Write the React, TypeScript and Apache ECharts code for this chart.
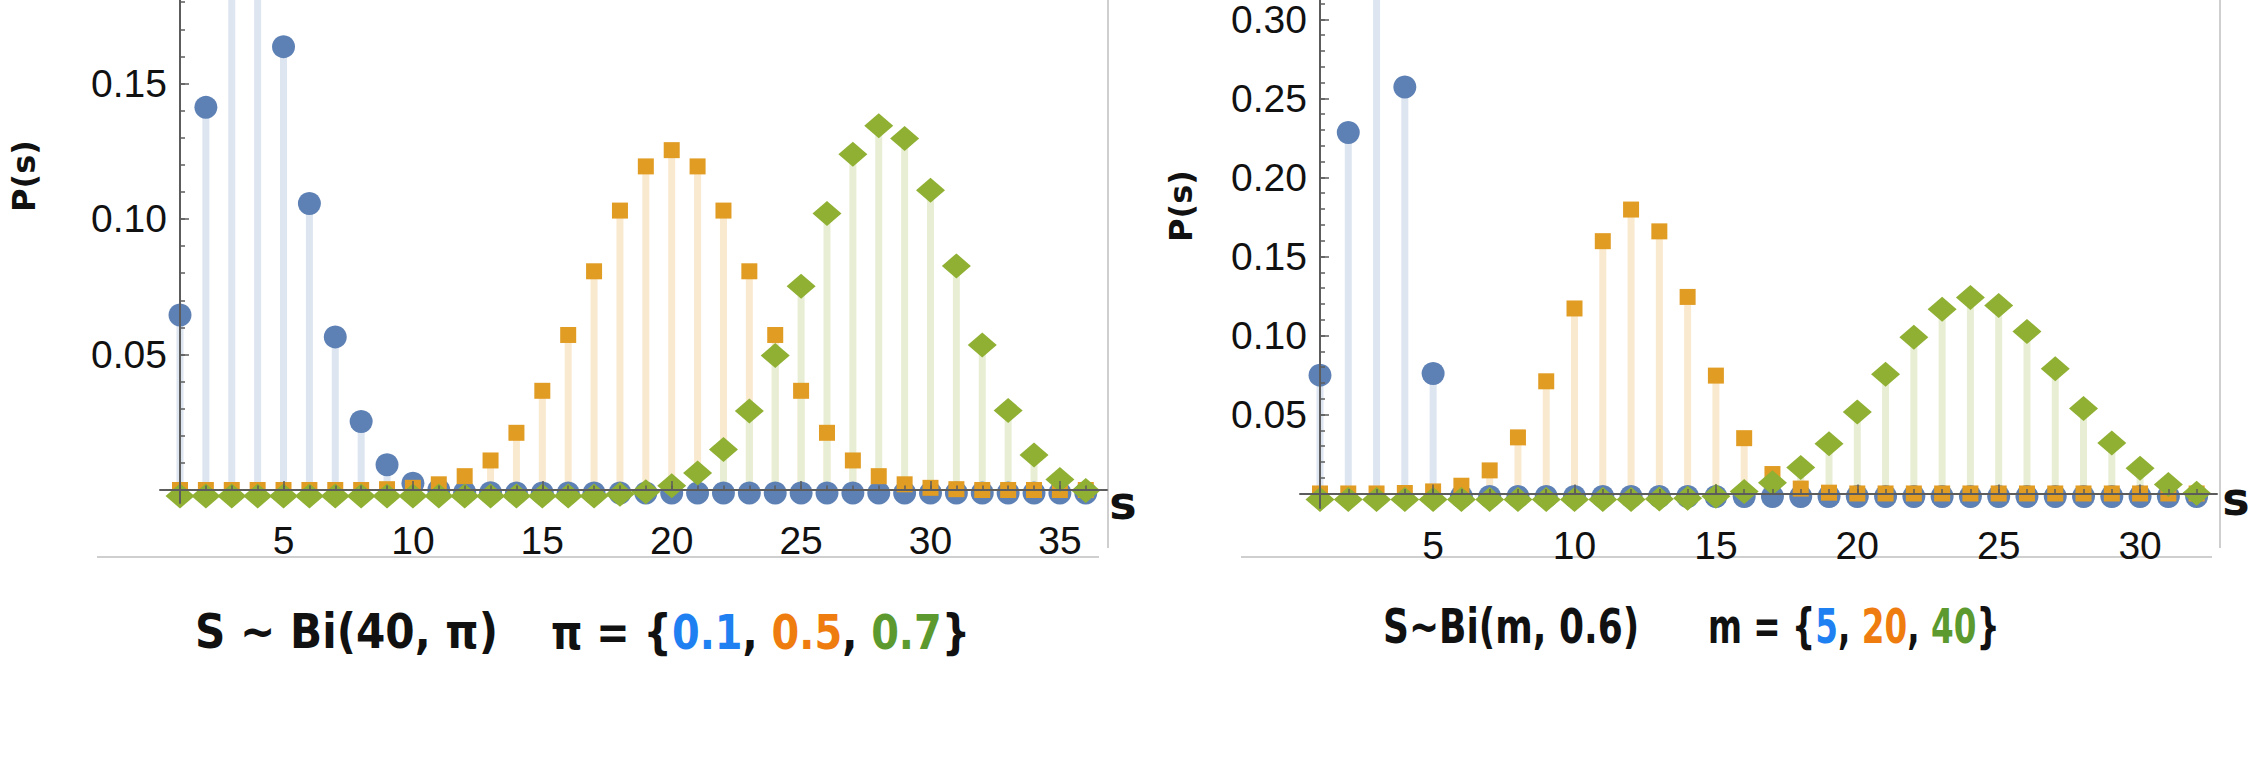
import React, { useEffect, useRef } from "react";
import * as echarts from "echarts";

// ---------- data ----------
// Left panel: S ~ Bi(40, π), π = {0.1, 0.5, 0.7}, s = 1..36
const sLeft = [1, 2, 3, 4, 5, 6, 7, 8, 9, 10, 11, 12, 13, 14, 15, 16, 17, 18, 19, 20, 21, 22, 23, 24, 25, 26, 27, 28, 29, 30, 31, 32, 33, 34, 35, 36];
const leftBlue = [0.0657, 0.1423, 0.2003, 0.2059, 0.1647, 0.1068, 0.0576, 0.0264, 0.0104, 0.0036, 0.0011, 0.0003, 0.0001, 0, 0, 0, 0, 0, 0, 0, 0, 0, 0, 0, 0, 0, 0, 0, 0, 0, 0, 0, 0, 0, 0, 0];
const leftOrange = [0, 0, 0, 0, 0, 0, 0, 0, 0.0003, 0.0008, 0.0021, 0.0051, 0.0109, 0.0211, 0.0366, 0.0572, 0.0807, 0.1031, 0.1194, 0.1254, 0.1194, 0.1031, 0.0807, 0.0572, 0.0366, 0.0211, 0.0109, 0.0051, 0.0021, 0.0008, 0.0003, 0, 0, 0, 0, 0];
const leftGreen = [0, 0, 0, 0, 0, 0, 0, 0, 0, 0, 0, 0, 0, 0, 0, 0, 0, 0.0006, 0.0016, 0.0038, 0.0085, 0.0172, 0.0314, 0.0518, 0.0774, 0.1042, 0.1261, 0.1366, 0.1319, 0.1128, 0.0849, 0.0557, 0.0315, 0.0151, 0.0061, 0.002];
const leftXTicks = [5, 10, 15, 20, 25, 30, 35];
const leftYTicks = [0.05, 0.1, 0.15];
const leftYMinor = [0.01, 0.02, 0.03, 0.04, 0.05, 0.06, 0.07, 0.08, 0.09, 0.1, 0.11, 0.12, 0.13, 0.14, 0.15, 0.16, 0.17, 0.18];

// Right panel: S ~ Bi(m, 0.6), m = {5, 20, 40}, s = 1..32
const sRight = [1, 2, 3, 4, 5, 6, 7, 8, 9, 10, 11, 12, 13, 14, 15, 16, 17, 18, 19, 20, 21, 22, 23, 24, 25, 26, 27, 28, 29, 30, 31, 32];
const rightBlue = [0.0768, 0.2304, 0.3456, 0.2592, 0.0778, 0, 0, 0, 0, 0, 0, 0, 0, 0, 0, 0, 0, 0, 0, 0, 0, 0, 0, 0, 0, 0, 0, 0, 0, 0, 0, 0];
const rightOrange = [0, 0, 0, 0.0003, 0.0013, 0.0049, 0.0146, 0.0355, 0.071, 0.1171, 0.1597, 0.1797, 0.1659, 0.1244, 0.0746, 0.035, 0.0123, 0.0031, 0.0005, 0, 0, 0, 0, 0, 0, 0, 0, 0, 0, 0, 0, 0];
const rightGreen = [0, 0, 0, 0, 0, 0, 0, 0, 0, 0, 0, 0, 0.0003, 0.0008, 0.0021, 0.005, 0.0106, 0.0203, 0.0352, 0.0554, 0.0792, 0.1026, 0.1204, 0.1279, 0.1228, 0.1063, 0.0827, 0.0576, 0.0357, 0.0197, 0.0095, 0.004];
const rightXTicks = [5, 10, 15, 20, 25, 30];
const rightYTicks = [0.05, 0.1, 0.15, 0.2, 0.25, 0.3];
const rightYMinor = [0.01, 0.02, 0.03, 0.04, 0.05, 0.06, 0.07, 0.08, 0.09, 0.1, 0.11, 0.12, 0.13, 0.14, 0.15, 0.16, 0.17, 0.18, 0.19, 0.2, 0.21, 0.22, 0.23, 0.24, 0.25, 0.26, 0.27, 0.28, 0.29, 0.3, 0.31];

// ---------- styles ----------
const AXIS = "#5c5c5c";
const FRAME = "#cfcfcf";
const TICK_FONT = "Liberation Sans";
const HAND_FONT = "DejaVu Sans";
const BLUE = "#5e81b5";
const ORANGE = "#e19c24";
const GREEN = "#8fb032";
const BLUE_STEM = "#dde5f0";
const ORANGE_STEM = "#f9e9cf";
const GREEN_STEM = "#e8eed4";
const CAP_BLUE = "#1f80f2";
const CAP_ORANGE = "#ef7c0e";
const CAP_GREEN = "#5c9a2f";

function pairs(xs: number[], ys: number[]) {
  return xs.map((x, i) => [x, ys[i]]);
}

function mainX(gridIndex: number, min: number, max: number, ticks: number[]) {
  return {
    gridIndex, type: "value", min, max, z: 10,
    axisLine: { show: true, onZero: true, lineStyle: { color: AXIS, width: 2 } },
    axisTick: { show: true, inside: true, length: 9, customValues: ticks, lineStyle: { color: AXIS, width: 1.5 } },
    axisLabel: { show: true, customValues: ticks, margin: 18, fontSize: 39, fontFamily: TICK_FONT, color: "#111" },
    splitLine: { show: false },
  };
}
function minorX(gridIndex: number, min: number, max: number, ticks: number[]) {
  return {
    gridIndex, type: "value", min, max, z: 10,
    axisLine: { show: false, onZero: true },
    axisTick: { show: true, inside: true, length: 4.5, customValues: ticks, lineStyle: { color: AXIS, width: 1.5 } },
    axisLabel: { show: false },
    splitLine: { show: false },
  };
}
function mainY(gridIndex: number, min: number, max: number, ticks: number[]) {
  return {
    gridIndex, type: "value", min, max, offset: -20, z: 10,
    axisLine: { show: true, onZero: false, lineStyle: { color: AXIS, width: 2 } },
    axisTick: { show: true, inside: true, length: 9, customValues: ticks, lineStyle: { color: AXIS, width: 1.5 } },
    axisLabel: {
      show: true, customValues: ticks, margin: 13, fontSize: 39, lineHeight: 30, fontFamily: TICK_FONT, color: "#111",
      formatter: (v: number) => v.toFixed(2),
    },
    splitLine: { show: false },
  };
}
function minorY(gridIndex: number, min: number, max: number, ticks: number[]) {
  return {
    gridIndex, type: "value", min, max, offset: -20, z: 10,
    axisLine: { show: false, onZero: false },
    axisTick: { show: true, inside: true, length: 5, customValues: ticks, lineStyle: { color: AXIS, width: 1.5 } },
    axisLabel: { show: false },
    splitLine: { show: false },
  };
}

function stem(axisIndex: number, data: number[][], color: string) {
  return {
    type: "bar", xAxisIndex: axisIndex, yAxisIndex: axisIndex, data,
    barWidth: 7, barGap: "-100%", itemStyle: { color }, z: 1, silent: true,
  };
}
function dots(axisIndex: number, data: number[][], symbol: string, size: any, offset: number[], color: string) {
  return {
    type: "scatter", xAxisIndex: axisIndex, yAxisIndex: axisIndex, data,
    symbol, symbolSize: size, symbolOffset: offset, itemStyle: { color, opacity: 1 }, z: 2, clip: false, silent: true,
  };
}

function handText(x: number, y: number, text: string, fontSize: number, rotation = 0, align = "center") {
  return {
    type: "text", x, y, rotation, z: 20,
    style: { text, fontSize, fontWeight: "bold", fontFamily: HAND_FONT, fill: "#111", align, verticalAlign: "middle" },
  };
}
function capRich(fontSize: number) {
  const base = { fontSize, fontWeight: "bold", fontFamily: HAND_FONT };
  return {
    b: { ...base, fill: CAP_BLUE },
    o: { ...base, fill: CAP_ORANGE },
    g: { ...base, fill: CAP_GREEN },
  };
}
function caption(x: number, y: number, text: string, scaleX: number) {
  return {
    type: "text", x, y, scaleX, z: 20,
    style: {
      text, fontSize: 48, fontWeight: "bold", fontFamily: HAND_FONT, fill: "#111",
      align: "left", verticalAlign: "middle", rich: capRich(48),
    },
  };
}
function frameLine(x1: number, y1: number, x2: number, y2: number) {
  return { type: "line", z: 0, shape: { x1, y1, x2, y2 }, style: { stroke: FRAME, lineWidth: 2 } };
}

export default function App() {
  const ref = useRef<HTMLDivElement>(null);
  useEffect(() => {
    document.body.style.margin = "0";
    if (!ref.current) return;
    const chart = echarts.init(ref.current, null, { renderer: "svg" });
    const LXMIN = 0.2272, LXMAX = 36.82, LYMIN = -0.0048, LYMAX = 0.1808;
    const RXMIN = 0.2928, RXMAX = 32.72, RYMIN = -0.0092, RYMAX = 0.3123;
    chart.setOption({
      animation: false,
      backgroundColor: "#ffffff",
      grid: [
        { left: 160, top: 0, width: 947, height: 503 },
        { left: 160, top: 0, width: 947, height: 503 },
        { left: 1300, top: 0, width: 917, height: 508 },
        { left: 1300, top: 0, width: 917, height: 508 },
      ],
      xAxis: [
        mainX(0, LXMIN, LXMAX, leftXTicks),
        minorX(1, LXMIN, LXMAX, sLeft),
        mainX(2, RXMIN, RXMAX, rightXTicks),
        minorX(3, RXMIN, RXMAX, sRight),
      ],
      yAxis: [
        mainY(0, LYMIN, LYMAX, leftYTicks),
        minorY(1, LYMIN, LYMAX, leftYMinor),
        mainY(2, RYMIN, RYMAX, rightYTicks),
        minorY(3, RYMIN, RYMAX, rightYMinor),
      ],
      series: [
        stem(0, pairs(sLeft, leftBlue), BLUE_STEM),
        stem(0, pairs(sLeft, leftOrange), ORANGE_STEM),
        stem(0, pairs(sLeft, leftGreen), GREEN_STEM),
        dots(0, pairs(sLeft, leftBlue), "circle", 23, [0, 3], BLUE),
        dots(0, pairs(sLeft, leftOrange), "rect", 16, [0, 0], ORANGE),
        dots(0, pairs(sLeft, leftGreen), "diamond", [29, 25], [0, 6], GREEN),
        stem(2, pairs(sRight, rightBlue), BLUE_STEM),
        stem(2, pairs(sRight, rightOrange), ORANGE_STEM),
        stem(2, pairs(sRight, rightGreen), GREEN_STEM),
        dots(2, pairs(sRight, rightBlue), "circle", 23, [0, 3], BLUE),
        dots(2, pairs(sRight, rightOrange), "rect", 16, [0, 0], ORANGE),
        dots(2, pairs(sRight, rightGreen), "diamond", [29, 25], [0, 6], GREEN),
      ],
      graphic: [
        frameLine(1108, 0, 1108, 548),
        frameLine(97, 557, 1099, 557),
        frameLine(2220, 0, 2220, 548),
        frameLine(1241, 557, 2212, 557),
        handText(24, 176, "P(s)", 32, Math.PI / 2),
        handText(1181, 206, "P(s)", 32, Math.PI / 2),
        handText(1123, 503, "s", 46),
        handText(2236, 499, "s", 46),
        caption(195, 632, "S ~ Bi(40, π)", 0.879),
        caption(551, 632, "π = {{b|0.1}, {o|0.5}, {g|0.7}}", 0.83),
        caption(1383, 627, "S~Bi(m, 0.6)", 0.75),
        caption(1708, 627, "m = {{b|5}, {o|20}, {g|40}}", 0.68),
      ],
    });
    return () => chart.dispose();
  }, []);
  return <div ref={ref} style={{ width: 2249, height: 760 }} />;
}
